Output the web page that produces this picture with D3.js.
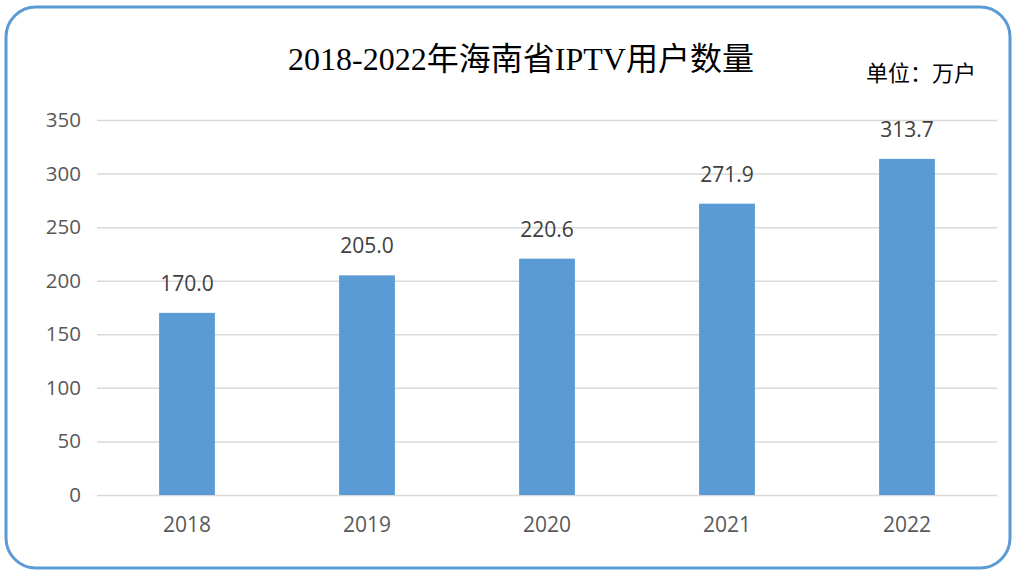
<!DOCTYPE html>
<html><head><meta charset="utf-8">
<script src="https://cdn.jsdelivr.net/npm/d3@7"></script>
<style>body{margin:0;background:#fff;}svg{display:block;}</style>
</head><body>
<svg id="c" width="1016" height="570"></svg>
<script>
const years = ["2018","2019","2020","2021","2022"];
const users = [170.0, 205.0, 220.6, 271.9, 313.7];
const yTicks = [0,50,100,150,200,250,300,350];
const title = "2018-2022年海南省IPTV用户数量";
const unit = "单位：万户";

const svg = d3.select("#c");
svg.append("rect").attr("x",6).attr("y",7).attr("width",1004).attr("height",561)
  .attr("rx",30).attr("ry",30).attr("fill","#fff").attr("stroke","#5b9bd5").attr("stroke-width",3);

const x = d3.scaleBand().domain(years).range([97,997]).paddingInner(0.69).paddingOuter(0.345);
const y = d3.scaleLinear().domain([0,350]).range([495,120]);

const sans = "'Open Sans','Noto Sans','Noto Sans CJK SC',sans-serif";
const serif = "'Liberation Serif','Noto Sans CJK SC',serif";

const yAxis = svg.append("g").attr("transform","translate(97,0)")
  .call(d3.axisLeft(y).tickValues(yTicks).tickSize(-900).tickPadding(16));
yAxis.select(".domain").remove();
yAxis.selectAll(".tick line").attr("stroke","#d9d9d9").attr("stroke-width",1.5);
yAxis.selectAll(".tick text").attr("fill","#595959").style("font-family",sans).style("font-size","20.5px");

const xAxis = svg.append("g").attr("transform","translate(0,495)")
  .call(d3.axisBottom(x).tickSize(0).tickPadding(22));
xAxis.select(".domain").remove();
xAxis.selectAll(".tick text").attr("fill","#595959").style("font-family",sans).style("font-size","21px");

svg.append("g").selectAll("rect").data(years).join("rect")
  .attr("x",d=>x(d)).attr("width",x.bandwidth())
  .attr("y",(d,i)=>y(users[i])).attr("height",(d,i)=>y(0)-y(users[i]))
  .attr("fill","#5b9bd5");

svg.append("g").selectAll("text").data(years).join("text")
  .attr("x",d=>x(d)+x.bandwidth()/2).attr("y",(d,i)=>y(users[i])-22)
  .attr("text-anchor","middle").attr("fill","#404040")
  .style("font-family",sans).style("font-size","21px")
  .text((d,i)=>users[i].toFixed(1));

svg.append("text").attr("x",521).attr("y",70).attr("text-anchor","middle")
  .attr("fill","#000").style("font-family",serif).style("font-size","32px").text(title);
svg.append("text").attr("x",976).attr("y",81).attr("text-anchor","end")
  .attr("fill","#000").style("font-family",serif).style("font-size","22px").text(unit);
</script>
</body></html>
